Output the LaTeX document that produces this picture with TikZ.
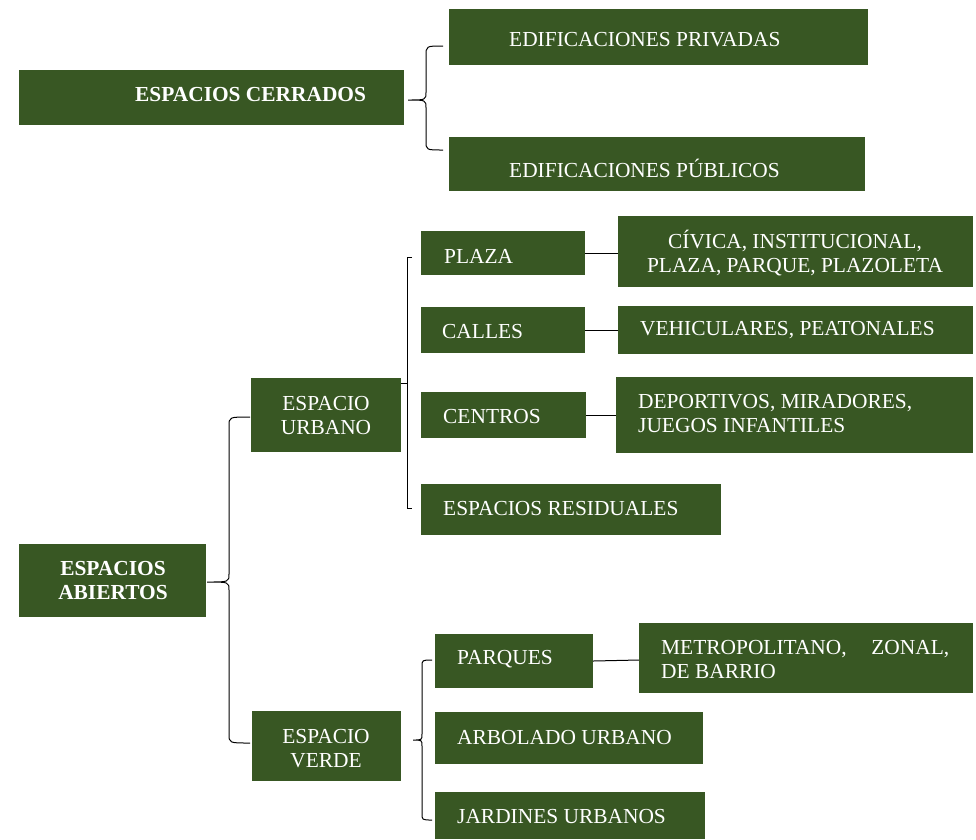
\documentclass[tikz,border=0pt]{standalone}
\usepackage{fontspec}
\setmainfont{Liberation Serif}
\usetikzlibrary{fit}
\definecolor{boxgreen}{RGB}{56,87,35}
\tikzset{
  box/.style={fill=boxgreen, draw=none, inner sep=0pt},
  txt/.style={text=white, inner sep=0pt, font=\fontsize{21.4}{24}\selectfont},
  btxt/.style={txt, font=\fontsize{21.4}{24}\selectfont\bfseries},
  link/.style={draw=black, line width=1pt},
  brace/.style={draw=black, line width=1pt},
}
\begin{document}
\begin{tikzpicture}[x=1pt,y=-1pt]
\useasboundingbox (0,0) rectangle (976,839);
% boxes
\node[box, fit={(19,70)(404,125)}] (cer) {};
\node[box, fit={(449,9)(868,65)}] (priv) {};
\node[box, fit={(449,137)(865,191)}] (pub) {};
\node[box, fit={(421,231)(585,275)}] (plaza) {};
\node[box, fit={(618,216)(973,287)}] (civica) {};
\node[box, fit={(421,307)(585,353)}] (calles) {};
\node[box, fit={(618,306)(973,354)}] (vehic) {};
\node[box, fit={(421,392)(586,438)}] (centros) {};
\node[box, fit={(616,377)(973,453)}] (deport) {};
\node[box, fit={(421,484)(721,535)}] (resid) {};
\node[box, fit={(251,378)(401,452)}] (urbano) {};
\node[box, fit={(19,544)(206,617)}] (abiertos) {};
\node[box, fit={(252,711)(401,781)}] (verde) {};
\node[box, fit={(435,634)(593,688)}] (parques) {};
\node[box, fit={(639,623)(973,693)}] (metro) {};
\node[box, fit={(435,712)(703,764)}] (arbolado) {};
\node[box, fit={(435,792)(705,839)}] (jardines) {};
% texts
\node[btxt, anchor=west] (tcer) at (135,95) {ESPACIOS CERRADOS};
\node[txt, anchor=west] (tpriv) at (509,40) {EDIFICACIONES PRIVADAS};
\node[txt, anchor=west] (tpub) at (509,168) {EDIFICACIONES PÚBLICOS};
\node[txt, anchor=west] (tplaza) at (444,256) {PLAZA};
\node[txt, align=center] (tcivica) at (795,253) {CÍVICA, INSTITUCIONAL,\\PLAZA, PARQUE, PLAZOLETA};
\node[txt, anchor=west] (tcalles) at (442,332) {CALLES};
\node[txt, anchor=west] (tvehic) at (640,330) {VEHICULARES, PEATONALES};
\node[txt, anchor=west] (tcentros) at (443,417) {CENTROS};
\node[txt, anchor=west, align=left] (tdeport) at (638,414) {DEPORTIVOS, MIRADORES,\\JUEGOS INFANTILES};
\node[txt, anchor=west] (tresid) at (443,509) {ESPACIOS RESIDUALES};
\node[txt, align=center] (turbano) at (326,416) {ESPACIO\\URBANO};
\node[btxt, align=center] (tabiertos) at (113,581) {ESPACIOS\\ABIERTOS};
\node[txt, anchor=west] (tparques) at (457,659) {PARQUES};
\node[txt, anchor=west, align=left] (tmetro) at (661,660) {\makebox[288pt][s]{METROPOLITANO, ZONAL,}\\DE BARRIO};
\node[txt, align=center] (tverde) at (326,749) {ESPACIO\\VERDE};
\node[txt, anchor=west] (tarbolado) at (457,738) {ARBOLADO URBANO};
\node[txt, anchor=west] (tjardines) at (457,817) {JARDINES URBANOS};
% straight connectors
\draw[link] (plaza.east) -- (plaza.east -| civica.west);
\draw[link] (calles.east) -- (calles.east -| vehic.west);
\draw[link] (centros.east) -- (centros.east -| deport.west);
\draw[link] (parques.east) -- ([yshift=-2pt]metro.west);
% braces
\coordinate (b1t) at (443,46);
\coordinate (b1m) at (408,100);
\coordinate (b1b) at (443,150);
\draw[brace] (b1t) .. controls (426,46) .. (426,56) -- (426,92) .. controls (426,100) .. (b1m)
  .. controls (426,100) .. (426,108) -- (426,141) .. controls (426,150) .. (b1b);
\coordinate (b2t) at (412,257);
\coordinate (b2m) at (401,383);
\coordinate (b2b) at (412,508);
\draw[brace] (b2t) -- (407,257) -- (407,383) -- (b2m) (407,383) -- (407,508) -- (b2b);
\coordinate (b3t) at (250,417);
\coordinate (b3m) at (207,582);
\coordinate (b3b) at (250,743);
\draw[brace] (b3t) .. controls (229,417) .. (229,426) -- (229,574) .. controls (229,582) .. (b3m)
  .. controls (229,582) .. (229,590) -- (229,734) .. controls (229,743) .. (b3b);
\coordinate (b4t) at (432,660);
\coordinate (b4m) at (413,740);
\coordinate (b4b) at (432,820);
\draw[brace] (b4t) .. controls (422,660) .. (422,667) -- (422,734) .. controls (422,740) .. (b4m)
  .. controls (422,740) .. (422,746) -- (422,813) .. controls (422,820) .. (b4b);
\end{tikzpicture}
\end{document}
